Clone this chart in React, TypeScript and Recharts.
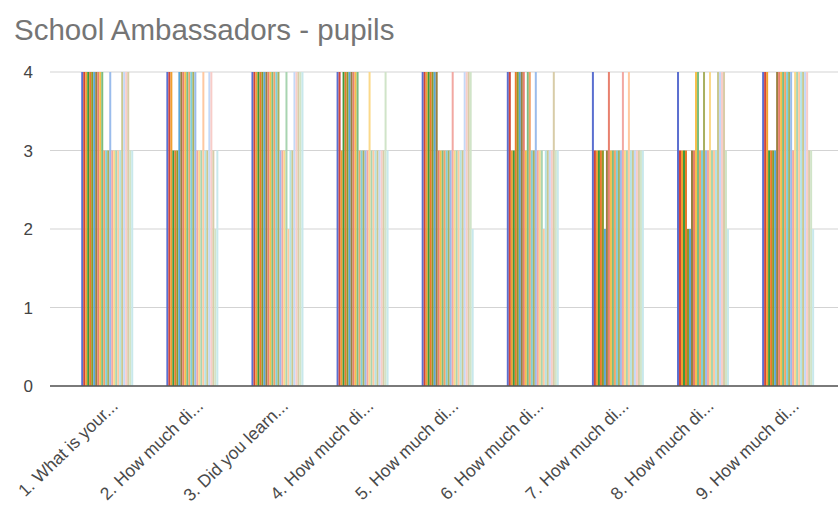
import React from "react";
import { BarChart, Bar, XAxis, YAxis, CartesianGrid } from "recharts";

const questions = [
  "1. What is your...",
  "2. How much di...",
  "3. Did you learn...",
  "4. How much di...",
  "5. How much di...",
  "6. How much di...",
  "7. How much di...",
  "8. How much di...",
  "9. How much di...",
];

// answers of each pupil (26 pupils) per question
const q1 = [4,4,4,4,4,4,4,4,4,4,4,3,3,3,4,3,3,3,3,3,4,4,4,4,3,3];
const q2 = [4,4,4,3,3,3,4,4,4,4,4,4,4,4,4,3,3,3,4,3,3,4,4,3,2,3];
const q3 = [4,4,4,4,4,4,4,4,4,4,4,4,4,4,3,3,3,4,2,3,3,4,4,4,4,4];
const q4 = [4,4,3,4,4,4,4,4,4,4,4,3,3,3,3,3,4,3,3,3,3,3,3,3,4,3];
const q5 = [4,4,4,4,4,4,4,4,3,3,3,3,3,3,3,4,3,3,3,3,3,4,4,4,4,2];
const q6 = [4,4,3,3,4,4,4,4,4,3,4,4,3,3,4,3,3,3,2,3,3,3,3,4,3,3];
const q7 = [4,3,3,3,3,3,2,3,4,3,3,3,3,3,3,4,3,3,4,3,3,3,3,3,3,3];
const q8 = [4,3,3,3,3,2,2,3,3,4,4,3,3,4,3,3,4,3,3,3,4,4,4,4,3,2];
const q9 = [4,4,4,3,3,3,3,4,4,4,4,4,4,4,4,3,4,4,4,4,4,4,4,3,3,2];

const answersByQuestion = [q1, q2, q3, q4, q5, q6, q7, q8, q9];
const yTicks = [0, 1, 2, 3, 4];

const pupilColors = [
  "#5b6fd0", "#d2463a", "#f0a030", "#3f9a3a", "#e87a2c", "#8c9a2a",
  "#5aa8d8", "#9a8040", "#e8806e", "#f6c04a", "#7bbd80", "#f4a268",
  "#7fcfd8", "#a8b060", "#9abcec", "#f2a8a2", "#fbd98a", "#a8d4b0",
  "#ffc8a0", "#b4e2e6", "#c8c890", "#c4d8f8", "#f8ccc8", "#d8cca8",
  "#d0e4c8", "#c8e8ec",
];

const pupilKeys = q1.map((_, j) => `p${j + 1}`);

const data = questions.map((q, i) => {
  const row: Record<string, string | number> = { question: q };
  answersByQuestion[i].forEach((v, j) => {
    row[pupilKeys[j]] = v;
  });
  return row;
});

const FONT = "'Liberation Sans', Arial, Helvetica, sans-serif";

const XTick = (props: any) => {
  const { x, y, payload } = props;
  return (
    <g transform={`translate(${x + 11},${y + 21})`}>
      <text
        transform="rotate(-44)"
        textAnchor="end"
        fontSize={17.5}
        fill="#4a4a4a"
        fontFamily={FONT}
      >
        {payload.value}
      </text>
    </g>
  );
};

export default function App() {
  return (
    <div style={{ position: "absolute", left: 0, top: 0, width: 838, height: 506, background: "#fff" }}>
      <svg width={838} height={60} style={{ position: "absolute", left: 0, top: 0 }}>
        <text x={14} y={40} fontSize={29.5} fill="#757575" fontFamily={FONT}>
          School Ambassadors - pupils
        </text>
      </svg>
      <div style={{ position: "absolute", left: 0, top: 0 }}>
        <BarChart
          width={838}
          height={506}
          data={data}
          margin={{ top: 72, right: 0, left: 0, bottom: 0 }}
          barCategoryGap="18.5%"
          barGap={0}
        >
          <CartesianGrid vertical={false} stroke="#d3d3d3" strokeWidth={1} />
          <XAxis
            dataKey="question"
            height={120}
            interval={0}
            padding={{ left: 15.5, right: 6.5 }}
            tickLine={false}
            tickSize={0}
            tickMargin={0}
            axisLine={{ stroke: "#555", strokeWidth: 1.5 }}
            tick={<XTick />}
          />
          <YAxis
            width={50}
            domain={[0, 4]}
            ticks={yTicks}
            axisLine={false}
            tickLine={false}
            tickMargin={11}
            tick={{ fontSize: 17, fill: "#444", fontFamily: FONT }}
          />
          {pupilKeys.map((k, j) => (
            <Bar
              key={k}
              dataKey={k}
              fill={pupilColors[j]}
              isAnimationActive={false}
            />
          ))}
        </BarChart>
      </div>
    </div>
  );
}
